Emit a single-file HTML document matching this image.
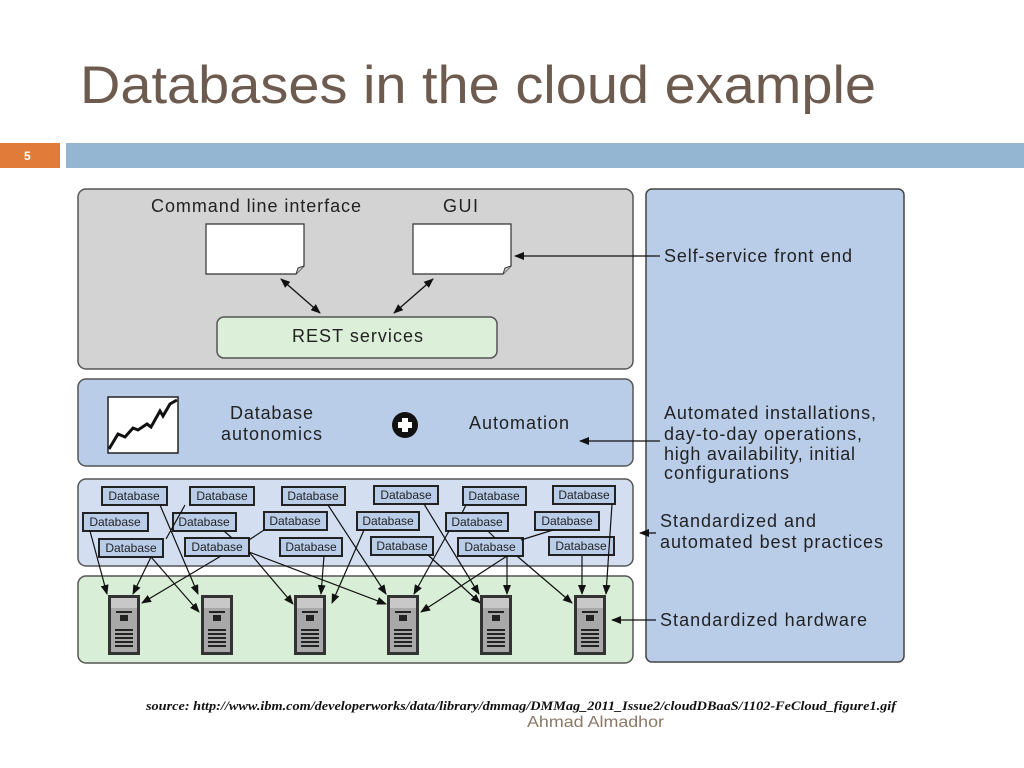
<!DOCTYPE html>
<html><head><meta charset="utf-8"><style>
html,body{margin:0;padding:0;background:#fff;width:1024px;height:768px;overflow:hidden}
svg{display:block}
</style></head><body>
<svg width="1024" height="768" viewBox="0 0 1024 768" xmlns="http://www.w3.org/2000/svg" font-family="Liberation Sans, sans-serif">
<defs>
<marker id="a" markerWidth="10" markerHeight="8" refX="9" refY="4" orient="auto" markerUnits="userSpaceOnUse"><path d="M0,0 L10,4 L0,8 z" fill="#111"/></marker>
<marker id="b" markerWidth="10" markerHeight="8" refX="1" refY="4" orient="auto" markerUnits="userSpaceOnUse"><path d="M10,0 L0,4 L10,8 z" fill="#111"/></marker>
<g id="srv">
<rect x="0" y="0" width="32" height="60" fill="#333"/>
<rect x="3" y="3" width="26" height="54" fill="#a8a8a8"/>
<rect x="3" y="3" width="26" height="10" fill="#c8c8c8"/>
<rect x="8" y="16" width="16" height="2" fill="#222"/>
<rect x="12" y="20" width="8" height="6" fill="#222"/>
<rect x="7" y="34" width="18" height="2" fill="#222"/>
<rect x="7" y="38" width="18" height="2" fill="#222"/>
<rect x="7" y="42" width="18" height="2" fill="#222"/>
<rect x="7" y="46" width="18" height="2" fill="#222"/>
<rect x="7" y="50" width="18" height="2" fill="#222"/>
</g>
</defs>
<text x="80" y="103" font-size="53" fill="#6d5b4f" textLength="796" lengthAdjust="spacingAndGlyphs">Databases in the cloud example</text>
<rect x="0" y="143" width="60" height="25" fill="#e07b39"/>
<text x="24" y="160" font-size="12" font-weight="bold" fill="#fff">5</text>
<rect x="66" y="143" width="958" height="25" fill="#94b6d2"/>

<rect x="646" y="189" width="258" height="473" rx="6" fill="#b9cde9" stroke="#444" stroke-width="1.5"/>
<rect x="78" y="189" width="555" height="180" rx="8" fill="#d3d3d3" stroke="#555" stroke-width="1.5"/>
<rect x="78" y="379" width="555" height="87" rx="8" fill="#b9cde9" stroke="#555" stroke-width="1.5"/>
<rect x="78" y="479" width="555" height="87" rx="8" fill="#d3dff0" stroke="#555" stroke-width="1.5"/>
<rect x="78" y="576" width="555" height="87" rx="8" fill="#d9eed6" stroke="#555" stroke-width="1.5"/>

<path d="M206,224 H304 V266 L296,274 H206 Z" fill="#fff" stroke="#333" stroke-width="1.2"/>
<path d="M296,274 L298,268 L304,266" fill="#ccc" stroke="#333"/>
<path d="M413,224 H511 V266 L503,274 H413 Z" fill="#fff" stroke="#333" stroke-width="1.2"/>
<path d="M503,274 L505,268 L511,266" fill="#ccc" stroke="#333"/>
<rect x="217" y="317" width="280" height="41" rx="7" fill="#dcefd9" stroke="#555" stroke-width="1.5"/>

<g font-size="18" fill="#222" lengthAdjust="spacingAndGlyphs">
<text x="151" y="212" textLength="210">Command line interface</text>
<text x="443" y="212" textLength="35">GUI</text>
<text x="292" y="342" textLength="131">REST services</text>
<text x="230" y="419" textLength="83">Database</text>
<text x="221" y="440" textLength="101">autonomics</text>
<text x="469" y="429" textLength="100">Automation</text>
<text x="664" y="262" textLength="188">Self-service front end</text>
<text x="664" y="419" textLength="212">Automated installations,</text>
<text x="664" y="440" textLength="198">day-to-day operations,</text>
<text x="664" y="460" textLength="191">high availability, initial</text>
<text x="664" y="479" textLength="125">configurations</text>
<text x="660" y="527" textLength="156">Standardized and</text>
<text x="660" y="548" textLength="223">automated best practices</text>
<text x="660" y="626" textLength="207">Standardized hardware</text>
</g>

<g stroke="#111" stroke-width="1.3" fill="none">
<line x1="281" y1="279" x2="320" y2="313" marker-start="url(#b)" marker-end="url(#a)"/>
<line x1="433" y1="279" x2="394" y2="313" marker-start="url(#b)" marker-end="url(#a)"/>
<line x1="660" y1="256" x2="515" y2="256" marker-end="url(#a)"/>
<line x1="660" y1="441" x2="580" y2="441" marker-end="url(#a)"/>
<line x1="656" y1="533" x2="640" y2="533" marker-end="url(#a)"/>
<line x1="656" y1="620" x2="612" y2="620" marker-end="url(#a)"/>
</g>

<rect x="108" y="397" width="70" height="56" fill="#fff" stroke="#222" stroke-width="1.5"/>
<polyline points="109,449 118,434 125,437 133,428 138,430 147,424 151,427 160,411 163,416 170,404 177,400" fill="none" stroke="#111" stroke-width="3"/>
<circle cx="405" cy="425" r="13" fill="#111"/>
<rect x="398" y="422" width="14" height="6" fill="#fff"/>
<rect x="402" y="418" width="6" height="14" fill="#fff"/>

<g fill="#b9cde9" stroke="#222" stroke-width="2">
<rect x="102" y="487" width="65" height="18"/><rect x="190" y="487" width="64" height="18"/><rect x="282" y="487" width="63" height="18"/><rect x="374" y="486" width="64" height="18"/><rect x="463" y="487" width="63" height="18"/><rect x="553" y="486" width="62" height="18"/>
<rect x="83" y="513" width="65" height="18"/><rect x="173" y="513" width="63" height="18"/><rect x="264" y="512" width="63" height="18"/><rect x="357" y="512" width="62" height="18"/><rect x="446" y="513" width="62" height="18"/><rect x="535" y="512" width="64" height="18"/>
<rect x="99" y="539" width="64" height="18"/><rect x="185" y="538" width="64" height="18"/><rect x="280" y="538" width="62" height="18"/><rect x="371" y="537" width="62" height="18"/><rect x="458" y="538" width="65" height="18"/><rect x="549" y="537" width="65" height="18"/>
</g>
<g font-size="12" fill="#222" text-anchor="middle">
<text x="134" y="500">Database</text><text x="222" y="500">Database</text><text x="313" y="500">Database</text><text x="406" y="499">Database</text><text x="494" y="500">Database</text><text x="584" y="499">Database</text>
<text x="115" y="526">Database</text><text x="204" y="526">Database</text><text x="295" y="525">Database</text><text x="388" y="525">Database</text><text x="477" y="526">Database</text><text x="567" y="525">Database</text>
<text x="131" y="552">Database</text><text x="217" y="551">Database</text><text x="311" y="551">Database</text><text x="402" y="550">Database</text><text x="490" y="551">Database</text><text x="581" y="550">Database</text>
</g>

<g stroke="#111" stroke-width="1.2">
<line x1="90" y1="531" x2="107" y2="594" marker-end="url(#a)"/>
<line x1="151" y1="557" x2="133" y2="594" marker-end="url(#a)"/>
<line x1="151" y1="557" x2="199" y2="612" marker-end="url(#a)"/>
<line x1="160" y1="505" x2="198" y2="594" marker-end="url(#a)"/>
<line x1="185" y1="505" x2="166" y2="539"/>
<line x1="221" y1="556" x2="142" y2="603" marker-end="url(#a)"/>
<line x1="224" y1="531" x2="232" y2="538"/>
<line x1="249" y1="552" x2="293" y2="604" marker-end="url(#a)"/>
<line x1="249" y1="552" x2="386" y2="604" marker-end="url(#a)"/>
<line x1="264" y1="530" x2="249" y2="540"/>
<line x1="328" y1="505" x2="386" y2="594" marker-end="url(#a)"/>
<line x1="324" y1="556" x2="321" y2="594" marker-end="url(#a)"/>
<line x1="364" y1="530" x2="332" y2="603" marker-end="url(#a)"/>
<line x1="424" y1="504" x2="479" y2="594" marker-end="url(#a)"/>
<line x1="428" y1="555" x2="480" y2="603" marker-end="url(#a)"/>
<line x1="449" y1="531" x2="414" y2="594" marker-end="url(#a)"/>
<line x1="466" y1="505" x2="462" y2="513"/>
<line x1="553" y1="530" x2="521" y2="540"/>
<line x1="507" y1="556" x2="421" y2="612" marker-end="url(#a)"/>
<line x1="507" y1="556" x2="507" y2="594" marker-end="url(#a)"/>
<line x1="517" y1="556" x2="572" y2="603" marker-end="url(#a)"/>
<line x1="488" y1="531" x2="495" y2="538"/>
<line x1="612" y1="504" x2="606" y2="594" marker-end="url(#a)"/>
<line x1="582" y1="556" x2="582" y2="594" marker-end="url(#a)"/>
</g>

<use href="#srv" x="108" y="595"/>
<use href="#srv" x="201" y="595"/>
<use href="#srv" x="294" y="595"/>
<use href="#srv" x="387" y="595"/>
<use href="#srv" x="480" y="595"/>
<use href="#srv" x="574" y="595"/>

<text x="146" y="710" font-family="Liberation Serif, serif" font-size="13" font-style="italic" font-weight="bold" fill="#111" textLength="750" lengthAdjust="spacingAndGlyphs">source: http://www.ibm.com/developerworks/data/library/dmmag/DMMag_2011_Issue2/cloudDBaaS/1102-FeCloud_figure1.gif</text>
<text x="527" y="727" font-size="16" fill="#8a7866" textLength="137" lengthAdjust="spacingAndGlyphs">Ahmad Almadhor</text>
</svg>
</body></html>
